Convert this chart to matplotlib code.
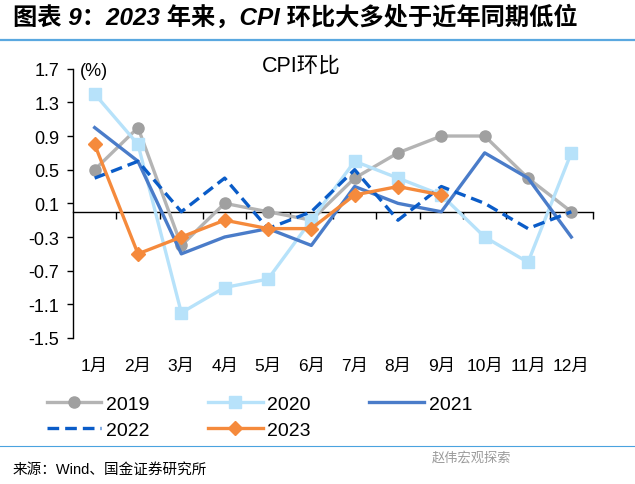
import matplotlib
matplotlib.use("Agg")
import matplotlib.pyplot as plt
from matplotlib.lines import Line2D

plt.rcParams['font.family'] = ['Liberation Sans', 'Noto Sans CJK SC']

months = ["1月", "2月", "3月", "4月", "5月", "6月", "7月", "8月", "9月", "10月", "11月", "12月"]
y2019 = [0.5, 1.0, -0.4, 0.1, 0.0, -0.1, 0.4, 0.7, 0.9, 0.9, 0.4, 0.0]
y2020 = [1.4, 0.8, -1.2, -0.9, -0.8, -0.1, 0.6, 0.4, 0.2, -0.3, -0.6, 0.7]
y2021 = [1.0, 0.6, -0.5, -0.3, -0.2, -0.4, 0.3, 0.1, 0.0, 0.7, 0.4, -0.3]
y2022 = [0.4, 0.6, 0.0, 0.4, -0.2, 0.0, 0.5, -0.1, 0.3, 0.1, -0.2, 0.0]
y2023 = [0.8, -0.5, -0.3, -0.1, -0.2, -0.2, 0.2, 0.3, 0.2]
yticks = [1.7, 1.3, 0.9, 0.5, 0.1, -0.3, -0.7, -1.1, -1.5]

W, H = 635, 485
fig = plt.figure(figsize=(W / 100, H / 100), dpi=100)
ax = fig.add_axes([73 / W, 1 - 339 / H, 520 / W, (339 - 69.7) / H])

x = list(range(len(months)))
l19, = ax.plot(x, y2019, color="#B4B4B4", lw=2.4, marker="o", ms=8, mfc="#A0A0A0", mec="#A0A0A0", label="2019", zorder=2)
l20, = ax.plot(x, y2020, color="#B7E2FA", lw=2.4, marker="s", ms=8, mfc="#B7E2FA", mec="#B7E2FA", label="2020", zorder=2)
l21, = ax.plot(x, y2021, color="#4A7CC9", lw=2.4, label="2021", zorder=3)
l22, = ax.plot(x, y2022, color="#0A5CC8", lw=2.4, ls=(0, (3.5, 1.8)), label="2022", zorder=3)
l23, = ax.plot(x[:len(y2023)], y2023, color="#F58A3C", lw=2.4, marker="D", ms=7, mfc="#F58A3C", mec="#F58A3C", label="2023", zorder=4)

ax.set_xlim(-0.5, len(months) - 0.5)
ax.set_ylim(-1.5, 1.7)
ax.set_yticks(yticks)
ax.set_yticklabels([f"{v:.1f}" for v in yticks], fontsize=13)
ax.tick_params(axis="y", direction="out", length=4, width=1, pad=6)

ax.set_xticks(x)
ax.set_xticklabels(months, fontsize=12.5)
ax.tick_params(axis="x", length=0, pad=14)

for s in ["top", "right", "bottom"]:
    ax.spines[s].set_visible(False)
ax.spines["left"].set_linewidth(1)

sec = ax.secondary_xaxis(1.5 / 3.2)
sec.set_xticks([i + 0.5 for i in range(len(months))])
sec.set_xticklabels([])
sec.tick_params(direction="out", length=5, width=1)
sec.spines["bottom"].set_linewidth(1)

fig.text(80 / W, 1 - 72 / H, "(%)", fontsize=13, va="center", ha="left")
fig.text(301 / W, 1 - 66 / H, "CPI环比", fontsize=15.5, va="center", ha="center")

fig.text(13 / W, 1 - 17 / H, "图表 9：2023 年来，CPI 环比大多处于近年同期低位", fontsize=17.5,
         fontweight="bold", style="italic", va="center", ha="left")
fig.add_artist(Line2D([0, 1], [1 - 41 / H, 1 - 41 / H], color="#5AA8E0", lw=1.6))
fig.add_artist(Line2D([0, 1], [1 - 447 / H, 1 - 447 / H], color="#4AA3DF", lw=0.8))

handles = [l19, l22, l20, l23, l21]
fig.legend(handles=handles, labels=[h.get_label() for h in handles],
           loc="upper left", bbox_to_anchor=(47 / W, 1 - 396 / H), ncol=3, frameon=False,
           fontsize=14, handlelength=2.8, handletextpad=0.25, columnspacing=3.0,
           labelspacing=0.45, borderaxespad=0, borderpad=0)

fig.text(13 / W, 1 - 470 / H, "来源：Wind、国金证券研究所", fontsize=10.5, va="center", ha="left")
fig.text(432 / W, 1 - 458 / H, "赵伟宏观探索", fontsize=9.5, color="#9A9A9A", va="center", ha="left")

fig.savefig("out.png", dpi=100)
